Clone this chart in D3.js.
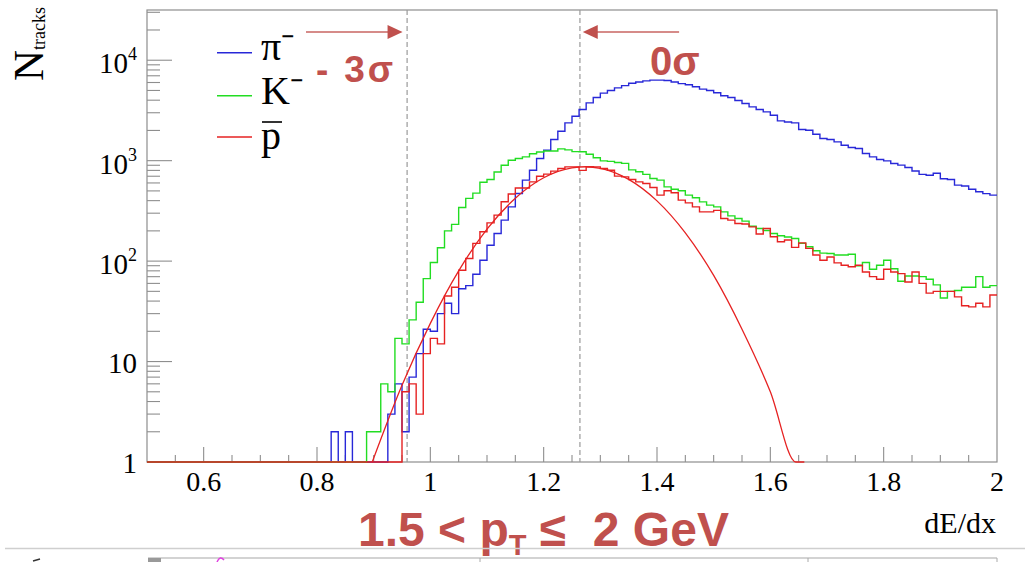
<!DOCTYPE html>
<html><head><meta charset="utf-8">
<script src="https://cdn.jsdelivr.net/npm/d3@7"></script>
<style>
html,body{margin:0;padding:0;background:#fff;}
svg{display:block;}
</style></head>
<body>
<svg id="chart" width="1025" height="562"></svg>
<script>
// ---- data ----
const binLow = 0.5, binWidth = 0.0125;   // 120 bins on [0.5, 2.0]
const piCounts = [
  0,0,0,0,0,0,0,0,0,0,
  0,0,0,0,0,0,0,0,0,0,
  0,0,0,0,0,0,2,0,2,0,
  0,0,0,0,3,6,2,7,12,21,
  20,30,38,30,53,57,74,102,144,188,
  256,347,471,640,804,1050,1270,1625,1966,2378,
  2773,3230,3760,4250,4700,4990,5300,5580,5900,6080,
  6230,6330,6330,6280,6080,5850,5700,5450,5150,4990,
  4750,4430,4255,3970,3705,3430,3230,3060,2835,2490,
  2430,2380,2042,2010,1835,1663,1625,1538,1425,1352,
  1322,1180,1092,1028,995,937,902,855,790,730,
  717,750,660,650,571,559,520,490,470,454
];
const kCounts = [
  0,0,0,0,0,0,0,0,0,0,
  0,0,0,0,0,0,0,0,0,0,
  0,0,0,0,0,0,0,0,0,0,
  0,2,2,6,5,17,15,26,39,67,
  97,136,200,232,342,421,475,610,650,770,
  900,1010,1050,1090,1170,1220,1250,1250,1310,1280,
  1230,1225,1160,1070,995,985,960,940,810,775,
  730,665,640,549,520,501,454,427,389,361,
  347,309,282,266,250,222,211,202,188,179,
  174,168,150,139,127,120,119,115,115,117,
  90,97,83,91,102,84,63,71,71,70,
  66,58,43,50,51,55,55,70,55,57
];
const pbarCounts = [
  0,0,0,0,0,0,0,0,0,0,
  0,0,0,0,0,0,0,0,0,0,
  0,0,0,0,0,0,0,0,0,0,
  0,0,0,0,0,0,5,6,3,12,
  17,15,45,55,81,106,150,196,240,287,
  390,465,535,535,615,700,734,786,836,867,
  867,800,870,867,836,804,701,690,650,615,
  593,541,454,501,480,405,380,347,309,309,
  320,266,256,237,234,219,186,211,175,156,
  162,137,152,134,115,102,110,96,91,88,
  91,78,70,66,83,78,75,62,78,60,
  48,50,50,50,44,36,35,38,35,46
];
// antiproton fit curve
const fitX = [0.8975,0.95,1.00,1.05,1.10,1.15,1.20,1.25,1.275,1.30,1.35,1.40,1.45,1.50,1.55,1.60,1.645,1.66];
const fitY = [1,5.8,24,80,208,423,676,849,870,839,652,398,191,72,21,5.0,1,1];

const xTickValues = [0.6,0.8,1.0,1.2,1.4,1.6,1.8,2.0];
const xTickLabels = ["0.6","0.8","1","1.2","1.4","1.6","1.8","2"];
const yTickValues = [1,10,100,1000,10000];
const yTickBase = ["1","10","10","10","10"];
const yTickExp  = ["","","2","3","4"];
const cutValues = [0.959, 1.264];
const legendLabels = ["π⁻","K⁻","p"];
const seriesColors = ["#2828d8","#22dd22","#e62222"];

// ---- scales ----
const svg = d3.select("#chart");
const x = d3.scaleLinear().domain([0.5,2.0]).range([147,997]);
const y = d3.scaleLog().domain([1, Math.pow(10,4.5)]).range([462,10]);
const frameCol = "#8e8e8e";
const serif = "Liberation Serif, Times New Roman, serif";
const sans = "Liberation Sans, Arial, sans-serif";
const annCol = "#c0504d";

// ---- frame ----
svg.append("rect").attr("x",x(0.5)).attr("y",y.range()[1])
  .attr("width",x(2)-x(0.5)).attr("height",y.range()[0]-y.range()[1])
  .attr("fill","none").attr("stroke",frameCol).attr("stroke-width",1.2);

// y ticks
const yt = svg.append("g");
for (let d=0; d<=4; d++){
  for (let m=1; m<=9; m++){
    const v = m*Math.pow(10,d);
    if (v > y.domain()[1]) break;
    const len = m===1 ? 25 : 13;
    yt.append("line").attr("x1",x(0.5)).attr("x2",x(0.5)+len)
      .attr("y1",y(v)).attr("y2",y(v)).attr("stroke",frameCol).attr("stroke-width",1.1);
  }
}
// x ticks
const xt = svg.append("g");
d3.range(11,40).forEach(i=>{
  const v = i*0.05;
  const major = (i % 4 === 0);
  xt.append("line").attr("x1",x(v)).attr("x2",x(v))
    .attr("y1",y(1)).attr("y2",y(1)-(major?15:7))
    .attr("stroke",frameCol).attr("stroke-width",1.1);
});

// x labels
svg.append("g").selectAll("text").data(xTickValues).join("text")
  .attr("x",d=>x(d)).attr("y",491).attr("text-anchor","middle")
  .attr("font-family",serif).attr("font-size",28).attr("fill","#000")
  .text((d,i)=>xTickLabels[i]);
// y labels
const yl = svg.append("g");
yTickValues.forEach((v,i)=>{
  const t = yl.append("text").attr("x",137).attr("text-anchor","end")
    .attr("font-family",serif).attr("font-size",29).attr("fill","#000");
  if (yTickExp[i]){
    t.attr("y",y(v)+13);
    t.append("tspan").text(yTickBase[i]);
    t.append("tspan").attr("font-size",18).attr("dy",-13).text(yTickExp[i]);
  } else {
    t.attr("y",y(v)+11).text(yTickBase[i]);
  }
});

// axis titles
svg.append("text").attr("x",996).attr("y",533).attr("text-anchor","end")
  .attr("font-family",serif).attr("font-size",30).text("dE/dx");
const yt2 = svg.append("text").attr("transform","translate(43,81) rotate(-90)")
  .attr("font-family",serif).attr("font-size",43);
yt2.append("tspan").text("N");
yt2.append("tspan").attr("font-size",18).attr("dy",2).text("tracks");

// ---- cut lines ----
svg.append("g").selectAll("line").data(cutValues).join("line")
  .attr("x1",d=>x(d)).attr("x2",d=>x(d)).attr("y1",y.range()[1]).attr("y2",y(1))
  .attr("stroke","#9a9a9a").attr("stroke-width",1.2).attr("stroke-dasharray","5,3");

// ---- histograms ----
const edges = d3.range(121).map(i=>binLow+i*binWidth);
function stepData(counts){
  const pts = counts.map((c,i)=>[edges[i], Math.max(c,1)]);
  pts.push([edges[120], Math.max(counts[119],1)]);
  return pts;
}
const stepLine = d3.line().x(d=>x(d[0])).y(d=>y(d[1])).curve(d3.curveStepAfter);
[piCounts,kCounts,pbarCounts].forEach((c,i)=>{
  svg.append("path").attr("d",stepLine(stepData(c)))
    .attr("fill","none").attr("stroke",seriesColors[i]).attr("stroke-width",1.4);
});
// fit curve
const fitLine = d3.line().x(d=>x(d[0])).y(d=>y(d[1])).curve(d3.curveMonotoneX);
svg.append("path").attr("d",fitLine(fitX.map((v,i)=>[v,fitY[i]])))
  .attr("fill","none").attr("stroke",seriesColors[2]).attr("stroke-width",1.3);

// ---- legend ----
const legY = [52.7,95.7,137];
const legBase = [60,104,149];
legendLabels.forEach((lab,i)=>{
  svg.append("line").attr("x1",217).attr("x2",252).attr("y1",legY[i]).attr("y2",legY[i])
    .attr("stroke",seriesColors[i]).attr("stroke-width",1.4);
  svg.append("text").attr("x",261).attr("y",legBase[i])
    .attr("font-family",serif).attr("font-size",40).attr("fill","#000").text(lab);
});
// overline on p
svg.append("line").attr("x1",262).attr("x2",282).attr("y1",122).attr("y2",122)
  .attr("stroke","#000").attr("stroke-width",1.6);

// ---- annotations ----
const ann = svg.append("g");
function arrow(xTail, xTip, yy){
  const dir = Math.sign(xTip-xTail);
  ann.append("line").attr("x1",xTail).attr("x2",xTip-dir*12).attr("y1",yy).attr("y2",yy)
    .attr("stroke","#d68b89").attr("stroke-width",2);
  ann.append("path").attr("d",`M${xTip},${yy} L${xTip-dir*15},${yy-7} L${xTip-dir*15},${yy+7} Z`)
    .attr("fill",annCol);
}
arrow(x(0.7806), x(0.951), 32);
arrow(x(1.439), x(1.269), 32);
ann.append("text").attr("x",316).attr("y",82).attr("font-family",sans).attr("font-weight","bold")
  .attr("font-size",37).attr("fill",annCol).attr("textLength",77).attr("lengthAdjust","spacing")
  .style("white-space","pre").text("- 3σ");
ann.append("text").attr("x",650).attr("y",75).attr("font-family",sans).attr("font-weight","bold")
  .attr("font-size",40).attr("fill",annCol).text("0σ");
const pt = ann.append("text").attr("x",358).attr("y",546).attr("font-family",sans).attr("font-weight","bold")
  .attr("font-size",48).attr("fill",annCol).style("white-space","pre");
pt.append("tspan").text("1.5 < p");
pt.append("tspan").attr("font-size",29).attr("dy",9).text("T");
pt.append("tspan").attr("dy",-9).text(" ≤  2 GeV");

// ---- bottom strip (next panel edge) ----
svg.append("line").attr("x1",5).attr("x2",1025).attr("y1",548.5).attr("y2",548.5)
  .attr("stroke","#cfcfcf").attr("stroke-width",1.5);
svg.append("line").attr("x1",148).attr("x2",997).attr("y1",558).attr("y2",558)
  .attr("stroke","#a8a8a8").attr("stroke-width",1.2);
svg.append("rect").attr("x",148).attr("y",558).attr("width",13).attr("height",4).attr("fill","#999");
[480,808,997].forEach(xx=>svg.append("line").attr("x1",xx).attr("x2",xx).attr("y1",558).attr("y2",562)
  .attr("stroke","#aaa").attr("stroke-width",1));
svg.append("path").attr("d","M217,562 Q220,555 224,560").attr("fill","none").attr("stroke","#e040e0").attr("stroke-width",1.5);
svg.append("path").attr("d","M33,561 L40,559").attr("stroke","#333").attr("stroke-width",1.5);
</script>
</body></html>
